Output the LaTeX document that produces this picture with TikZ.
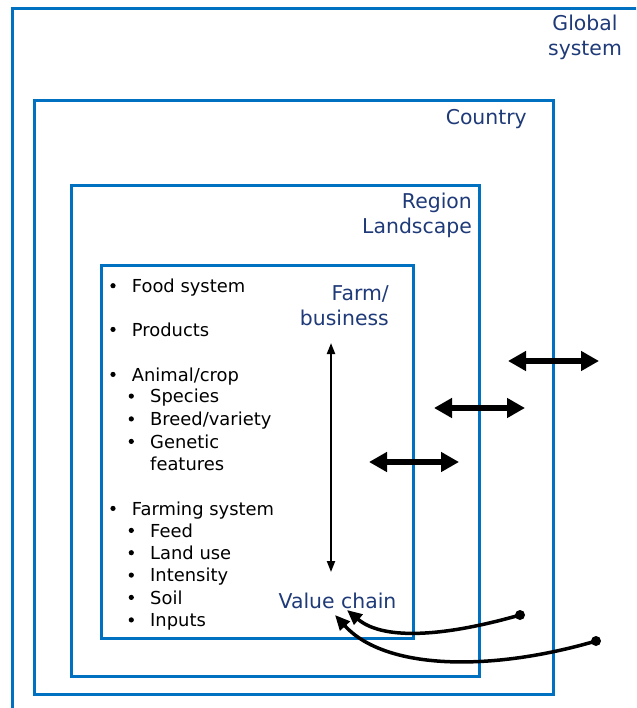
\documentclass[tikz,border=0pt]{standalone}
\usepackage{fontspec}
\setmainfont{DejaVu Sans}
\usetikzlibrary{arrows.meta}
\definecolor{frameblue}{HTML}{0070C0}
\definecolor{labelnavy}{HTML}{1F3A78}

\begin{document}
\begin{tikzpicture}[x=1pt,y=-1pt,
  frame/.style={draw=frameblue, line width=3pt, outer sep=0pt, inner sep=0pt, anchor=north west},
  level/.style={text=labelnavy, font=\fontsize{20.4}{25}\selectfont, inner sep=0pt},
  entry/.style={font=\fontsize{17.9}{22}\selectfont, inner sep=0pt, anchor=base west},
  flow/.style={line width=6pt, {Triangle[length=18pt,width=19pt]}-{Triangle[length=18pt,width=19pt]}},
  link/.style={line width=2pt, {Triangle[length=11pt,width=8pt]}-{Triangle[length=11pt,width=8pt]}},
  feed/.style={line width=3.5pt, -{Triangle[length=15pt,width=13pt]}}
]
\useasboundingbox (0,0) rectangle (636,708);

% outermost level: only its top and left sides fall inside the page
\begin{scope}
  \clip (0,0) rectangle (636,708);
  \draw[draw=frameblue, line width=3pt] (12.5,730) |- (660,9);
\end{scope}

% nested frames
\node[frame, minimum width=518.5pt, minimum height=593pt] (country) at (34.5,101) {};
\node[frame, minimum width=407.5pt, minimum height=490pt] (region) at (71.5,186) {};
\node[frame, minimum width=312pt, minimum height=373.5pt] (farm) at (101,265) {};

% level labels
\node[level, anchor=base] (globallabel) at (585,31)
  {\begin{tabular}[t]{@{}c@{}}Global\\system\end{tabular}};
\node[level, anchor=base east] (countrylabel) at (527,125) {Country};
\node[level, anchor=base east] (regionlabel) at (472,209)
  {\begin{tabular}[t]{@{}r@{}}Region\\Landscape\end{tabular}};
\node[level, anchor=base east] (farmlabel) at (389,300)
  {\begin{tabular}[t]{@{}r@{}}Farm/\\business\end{tabular}};
\node[level, anchor=base] (chainlabel) at (337.5,608) {Value chain};

% bullet list
\node[entry] (food) at (131.7,292.3) {Food system};
\node[entry] (products) at (131.7,336) {Products};
\node[entry] (animal) at (131.7,381) {Animal/crop};
\node[entry] (species) at (150,402.7) {Species};
\node[entry] (breed) at (150,425.5) {Breed/variety};
\node[entry] (genetic) at (150,448)
  {\begin{tabular}[t]{@{}l@{}}Genetic\\features\end{tabular}};
\node[entry] (farming) at (131.7,515) {Farming system};
\node[entry] (feed) at (150,537) {Feed};
\node[entry] (landuse) at (150,559.3) {Land use};
\node[entry] (intensity) at (150,581.7) {Intensity};
\node[entry] (soil) at (150,604) {Soil};
\node[entry] (inputs) at (150,626.5) {Inputs};
\foreach \n in {food,products,animal,species,breed,genetic,farming,feed,landuse,intensity,soil,inputs}
  \fill ([shift={(-18.7,-6.6)}]\n.base west) circle (2.6);

% link between farm/business and value chain
\coordinate (linktop) at (331,343);
\coordinate (linkbot) at (331,572);
\draw[link] (linktop) -- (linkbot);

% exchanges across the level boundaries
\coordinate (ex1a) at (369,462);
\coordinate (ex1b) at (459,462);
\coordinate (ex2a) at (434,408);
\coordinate (ex2b) at (525,408);
\coordinate (ex3a) at (508,361);
\coordinate (ex3b) at (599,361);
\draw[flow] (ex1a) -- (ex1b);
\draw[flow] (ex2a) -- (ex2b);
\draw[flow] (ex3a) -- (ex3b);

% feedback into the value chain
\coordinate (src1) at (520,615);
\coordinate (src2) at (596,641);
\coordinate (in1) at (347,610);
\coordinate (in2) at (335,615);
\draw[feed] (src1) .. controls (450,635) and (385,642) .. (in1);
\draw[feed] (src2) .. controls (490,672) and (385,670) .. (in2);
\fill (src1) circle (5);
\fill (src2) circle (5);
\end{tikzpicture}
\end{document}
